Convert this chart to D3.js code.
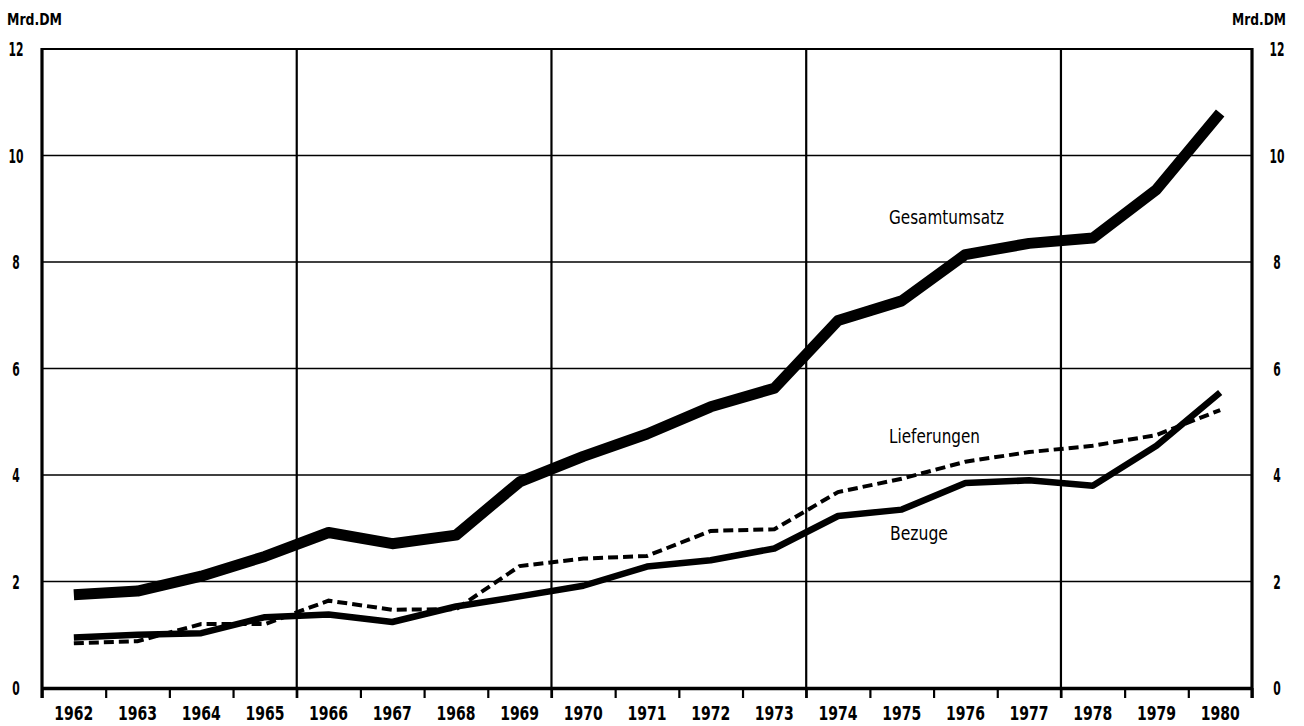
<!DOCTYPE html>
<html>
<head>
<meta charset="utf-8">
<script src="https://cdn.jsdelivr.net/npm/d3@7"></script>
<style>
  body { margin: 0; background: #fff; }
  svg text { font-family: "Liberation Sans Narrow", "DejaVu Sans Condensed", "Arial Narrow", sans-serif; font-stretch: condensed; fill: #000; }
</style>
</head>
<body>
<svg id="chart" width="1304" height="726"></svg>
<script>
// years on the x axis
const years = d3.range(1962, 1981)
// values in Mrd. DM
const gesamtumsatz = [1.75, 1.82, 2.1, 2.47, 2.92, 2.71, 2.87, 3.87, 4.35, 4.77, 5.28, 5.63, 6.9, 7.27, 8.14, 8.35, 8.45, 9.36, 10.8]
const bezuege = [0.95, 1.0, 1.03, 1.33, 1.38, 1.24, 1.53, 1.72, 1.92, 2.28, 2.4, 2.62, 3.23, 3.35, 3.85, 3.9, 3.8, 4.55, 5.55]
const lieferungen = [0.84, 0.88, 1.2, 1.2, 1.64, 1.47, 1.48, 2.29, 2.43, 2.48, 2.95, 2.98, 3.68, 3.93, 4.25, 4.43, 4.55, 4.75, 5.22]
const yTicks = [0, 2, 4, 6, 8, 10, 12]
const gridYears = [1966, 1970, 1974, 1978] // vertical lines left of these years
const unit = 'Mrd.DM'

const plotLeft = 42
const plotRight = 1252
const plotTop = 49
const plotBottom = 688

const svg = d3.select('#chart')

// x: year centres, band boundaries at year - 0.5
const x = d3.scaleLinear().domain([1961.5, 1980.5]).range([plotLeft, plotRight])
const y = d3.scaleLinear().domain([0, 12]).range([plotBottom, plotTop])

// horizontal grid lines
svg.append('g')
  .selectAll('line')
  .data(yTicks.filter(v => v > 0 && v < 12))
  .enter()
  .append('line')
  .attr('x1', plotLeft)
  .attr('x2', plotRight)
  .attr('y1', v => y(v))
  .attr('y2', v => y(v))
  .attr('stroke', '#000')
  .attr('stroke-width', 1.6)

// top border
svg.append('line')
  .attr('x1', plotLeft).attr('x2', plotRight)
  .attr('y1', y(12)).attr('y2', y(12))
  .attr('stroke', '#000').attr('stroke-width', 2)

// vertical grid lines every four years
svg.append('g')
  .selectAll('line')
  .data(gridYears)
  .enter()
  .append('line')
  .attr('x1', d => x(d - 0.5))
  .attr('x2', d => x(d - 0.5))
  .attr('y1', y(12))
  .attr('y2', plotBottom + 10)
  .attr('stroke', '#000')
  .attr('stroke-width', 2.2)

// bottom axis with ticks at the year boundaries
const xAxis = d3.axisBottom(x)
  .tickValues(d3.range(1961.5, 1981.5, 1))
  .tickFormat('')
  .tickSize(10)
  .tickSizeOuter(0)
svg.append('g')
  .attr('transform', `translate(0, ${plotBottom})`)
  .call(xAxis)
  .call(g => g.select('.domain').attr('stroke-width', 3.5))
  .call(g => g.selectAll('.tick line').attr('stroke-width', 2.2))

// side axes
svg.append('line')
  .attr('x1', plotLeft).attr('x2', plotLeft)
  .attr('y1', y(12) - 1).attr('y2', plotBottom + 10)
  .attr('stroke', '#000').attr('stroke-width', 3.2)
svg.append('line')
  .attr('x1', plotRight).attr('x2', plotRight)
  .attr('y1', y(12) - 1).attr('y2', plotBottom + 10)
  .attr('stroke', '#000').attr('stroke-width', 3.2)

// year labels (narrow, like the printed original)
svg.append('g')
  .selectAll('text')
  .data(years)
  .enter()
  .append('text')
  .attr('x', d => x(d))
  .attr('y', 720)
  .attr('text-anchor', 'middle')
  .attr('font-size', 19)
  .attr('font-weight', 'bold')
  .attr('textLength', 39)
  .attr('lengthAdjust', 'spacingAndGlyphs')
  .text(d => d)

// y labels both sides
const yLabels = svg.append('g')
yLabels.selectAll('.yl')
  .data(yTicks)
  .enter()
  .append('text')
  .attr('class', 'yl')
  .attr('x', 16)
  .attr('y', v => y(v) + 7)
  .attr('text-anchor', 'middle')
  .attr('font-size', 20)
  .attr('font-weight', 'bold')
  .attr('textLength', v => String(v).length * 7.5)
  .attr('lengthAdjust', 'spacingAndGlyphs')
  .text(v => v)
yLabels.selectAll('.yr')
  .data(yTicks)
  .enter()
  .append('text')
  .attr('class', 'yr')
  .attr('x', 1277)
  .attr('y', v => y(v) + 7)
  .attr('text-anchor', 'middle')
  .attr('font-size', 20)
  .attr('font-weight', 'bold')
  .attr('textLength', v => String(v).length * 7.5)
  .attr('lengthAdjust', 'spacingAndGlyphs')
  .text(v => v)

svg.append('text')
  .attr('x', 7).attr('y', 25)
  .attr('font-size', 16).attr('font-weight', 'bold')
  .attr('textLength', 55).attr('lengthAdjust', 'spacingAndGlyphs')
  .text(unit)
svg.append('text')
  .attr('x', 1232).attr('y', 25)
  .attr('font-size', 16).attr('font-weight', 'bold')
  .attr('textLength', 54).attr('lengthAdjust', 'spacingAndGlyphs')
  .text(unit)

// series lines
const line = d3.line()
  .x((d, i) => x(years[i]))
  .y(d => y(d))

svg.append('path')
  .datum(lieferungen)
  .attr('d', line)
  .attr('fill', 'none')
  .attr('stroke', '#000')
  .attr('stroke-width', 4)
  .attr('stroke-dasharray', '10,5')

svg.append('path')
  .datum(bezuege)
  .attr('d', line)
  .attr('fill', 'none')
  .attr('stroke', '#000')
  .attr('stroke-width', 6.5)
  .attr('stroke-linejoin', 'round')

svg.append('path')
  .datum(gesamtumsatz)
  .attr('d', line)
  .attr('fill', 'none')
  .attr('stroke', '#000')
  .attr('stroke-width', 11)
  .attr('stroke-linejoin', 'round')

// series names
const names = [
  { text: 'Gesamtumsatz', x: 889, y: 224, w: 115 },
  { text: 'Lieferungen', x: 889, y: 443, w: 91 },
  { text: 'Bezuge', x: 890, y: 540, w: 58 }
]
svg.append('g')
  .selectAll('text')
  .data(names)
  .enter()
  .append('text')
  .attr('x', d => d.x)
  .attr('y', d => d.y)
  .attr('font-size', 20)
  .attr('textLength', d => d.w)
  .attr('lengthAdjust', 'spacingAndGlyphs')
  .text(d => d.text)
</script>
</body>
</html>
